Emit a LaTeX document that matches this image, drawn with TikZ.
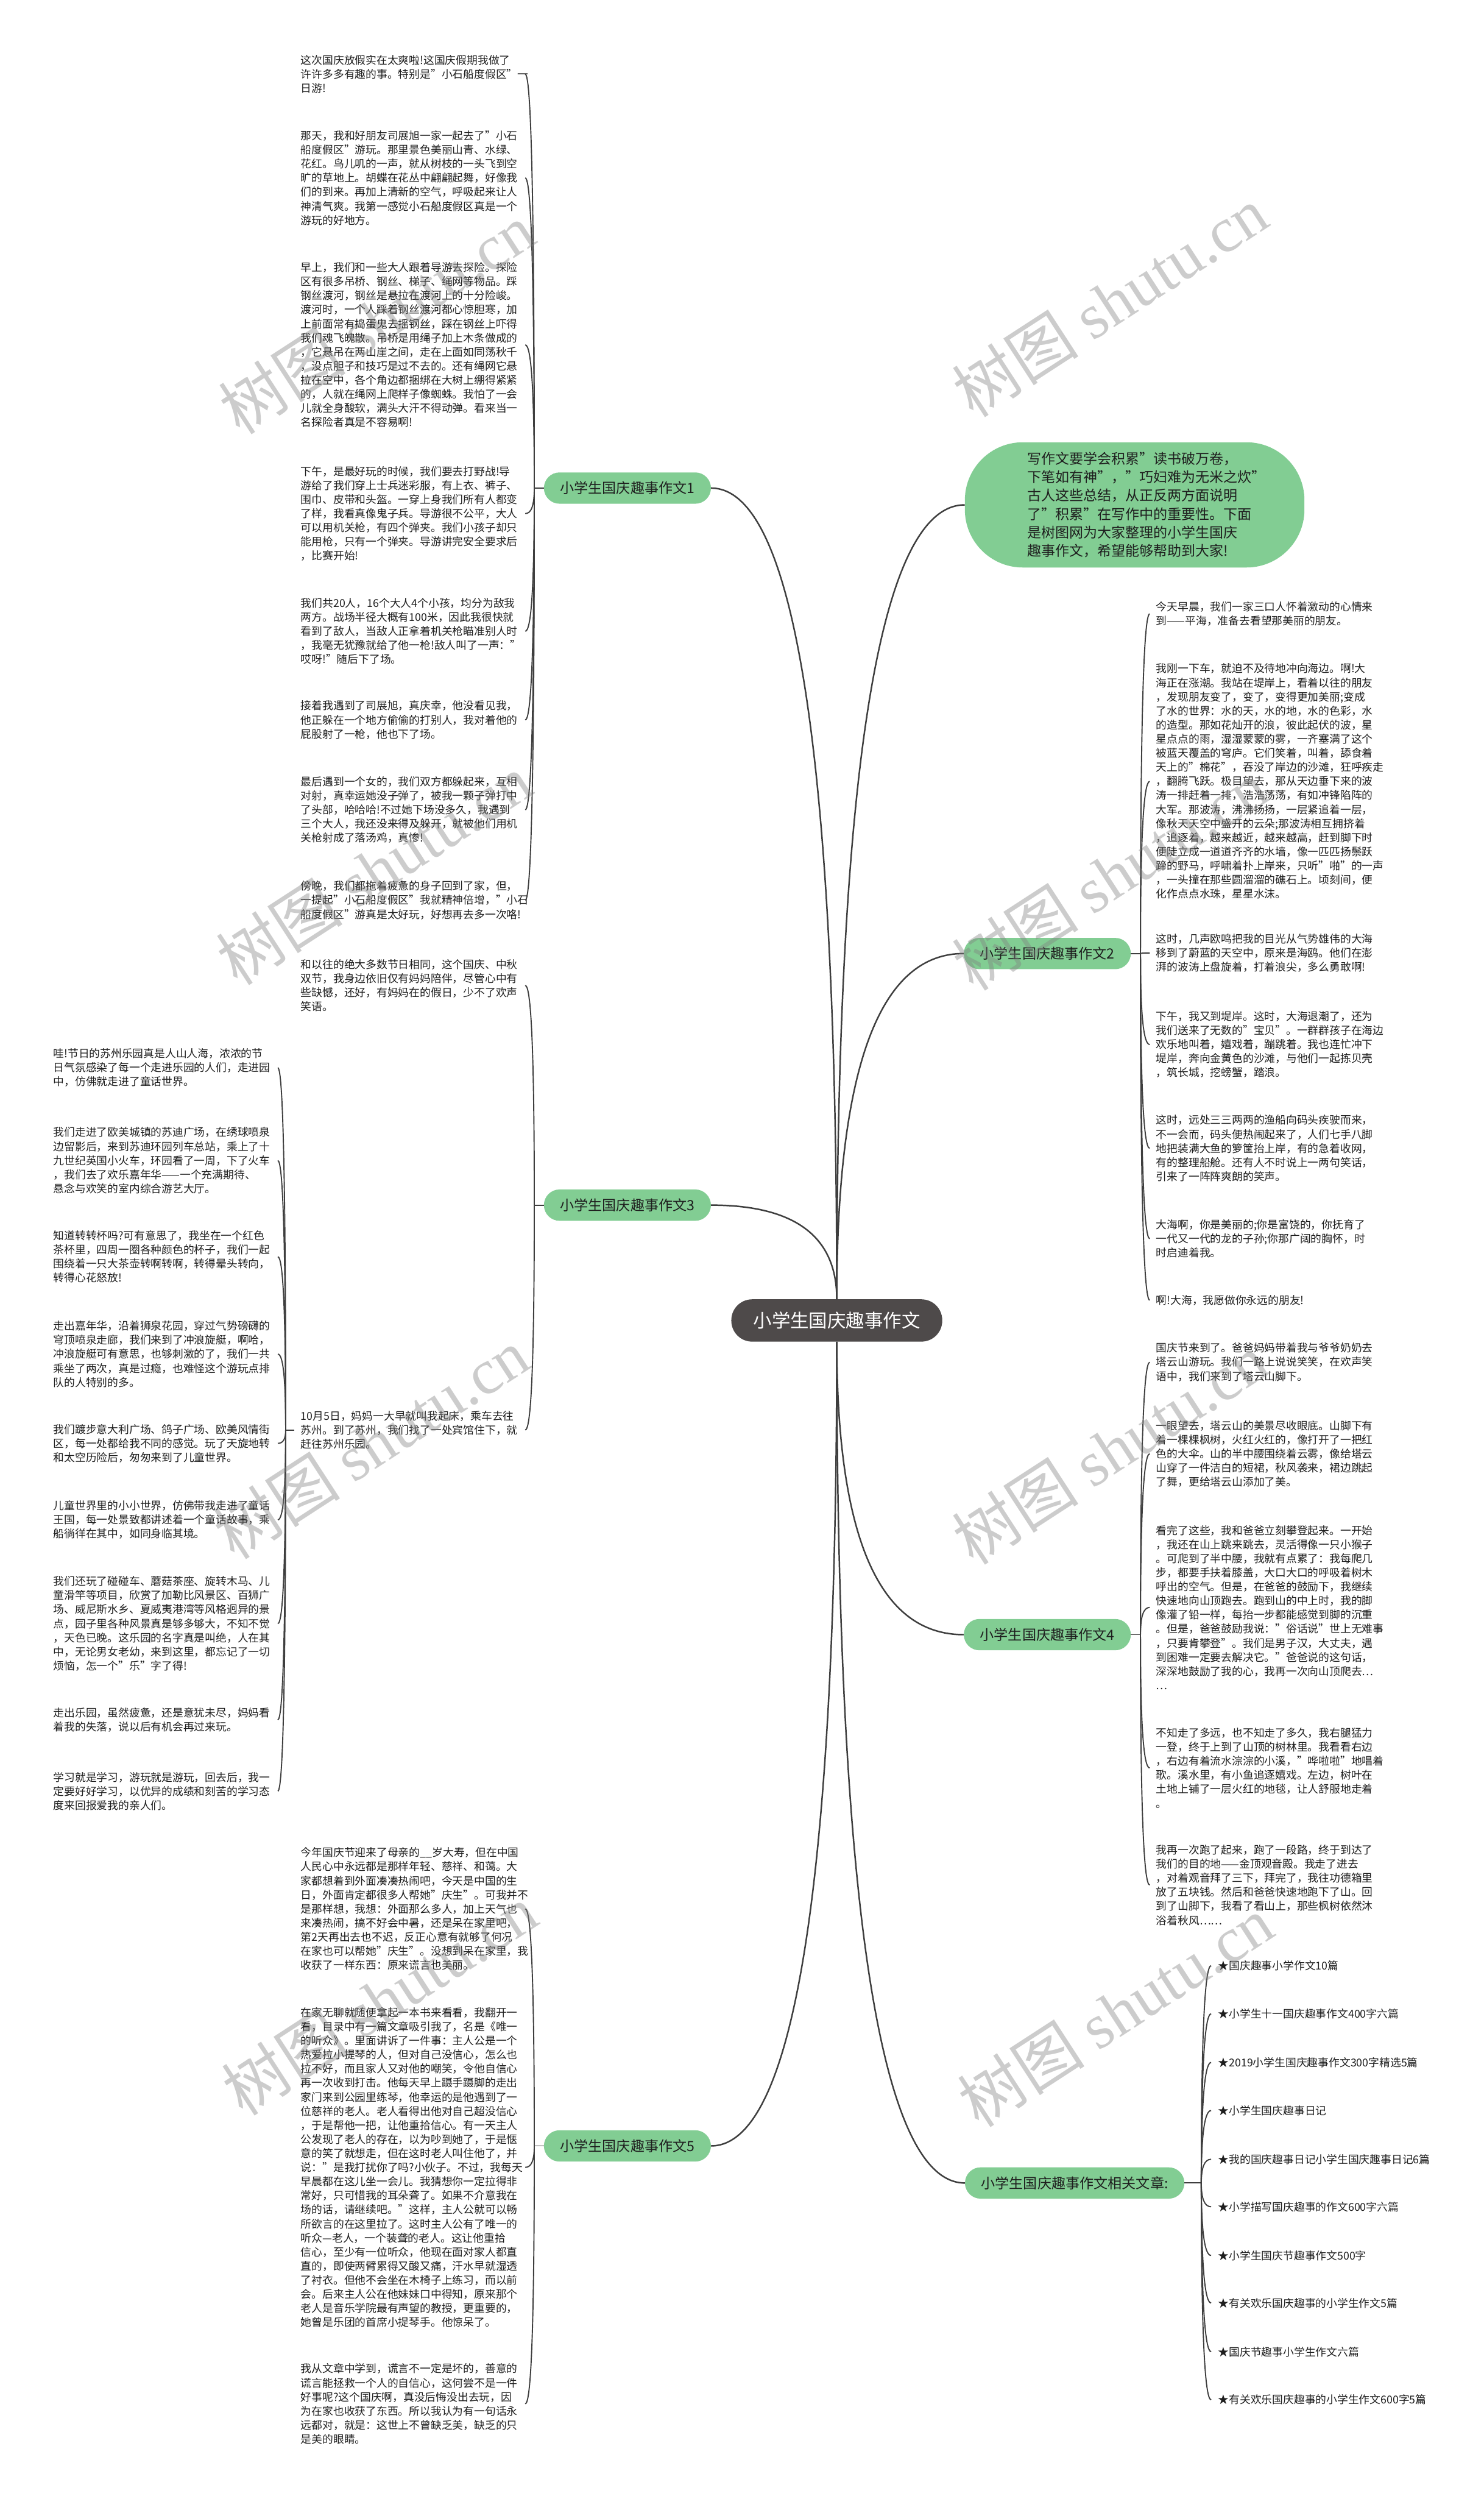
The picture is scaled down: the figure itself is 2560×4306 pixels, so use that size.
\documentclass[tikz,border=0pt]{standalone}
\usepackage{fontspec}
\setmainfont{Noto Sans CJK SC}
\newfontfamily\wmcjk{Noto Sans CJK SC}
\newfontfamily\wmlat{Liberation Serif}
\definecolor{grn}{RGB}{130,205,147}
\definecolor{cen}{RGB}{78,74,74}
\definecolor{lnc}{RGB}{62,62,62}
\definecolor{txtc}{RGB}{30,30,30}
\tikzset{
 base/.style={font=\fontsize{18.7pt}{24.3pt}\selectfont, text=txtc, align=left, inner ysep=0pt},
 lt/.style={base, anchor=west, inner xsep=11pt, text width=376pt},
 rt/.style={base, anchor=west, inner xsep=11pt},
 lbl/.style={fill=grn, rounded corners=27pt, minimum height=54pt, inner xsep=28pt, inner ysep=0pt, font=\fontsize{24.3pt}{30pt}\selectfont, text=txtc},
 cconn/.style={draw=lnc, line width=2.6pt},
 hk/.style={draw=lnc, line width=2pt},
 wm/.style={rotate=33, text=gray, text opacity=0.4, font=\fontsize{110pt}{110pt}\selectfont, inner sep=0pt}
}
\begin{document}
\begin{tikzpicture}[x=1pt,y=-1pt]
\fill[white] (0,0) rectangle (2560,4306);
\useasboundingbox (0,0) rectangle (2560,4306);

% central node
\node[fill=cen, text=white, rounded corners=36pt, minimum width=364pt, minimum height=73pt, inner sep=0pt, font=\fontsize{32pt}{36pt}\selectfont] (c) at (1444,2278) {小学生国庆趣事作文};

% labels
\node[lbl, anchor=east] (lb1) at (1227,842) {小学生国庆趣事作文1};
\node[lbl, anchor=east] (lb3) at (1227,2079) {小学生国庆趣事作文3};
\node[lbl, anchor=east] (lb5) at (1227,3702) {小学生国庆趣事作文5};
\node[lbl, anchor=west] (lb2) at (1663,1645) {小学生国庆趣事作文2};
\node[lbl, anchor=west] (lb4) at (1663,2820) {小学生国庆趣事作文4};
\node[lbl, anchor=west] (lrel) at (1665,3766) {小学生国庆趣事作文相关文章:};

% intro box
\node[fill=grn, rounded corners=100pt, minimum height=216pt, text width=370pt, inner xsep=108pt, inner ysep=0pt, align=left, font=\fontsize{24.2pt}{31.7pt}\selectfont, text=txtc] (intro) at (1958,871) {写作文要学会积累"读书破万卷，\\下笔如有神"，"巧妇难为无米之炊"\\古人这些总结，从正反两方面说明\\了"积累"在写作中的重要性。下面\\是树图网为大家整理的小学生国庆\\趣事作文，希望能够帮助到大家!};

% branch 1 texts
\node[lt] (b1a) at (508,128) {这次国庆放假实在太爽啦!这国庆假期我做了\\许许多多有趣的事。特别是"小石船度假区"一\\日游!};
\node[lt] (b1b) at (508,307) {那天，我和好朋友司展旭一家一起去了"小石\\船度假区"游玩。那里景色美丽山青、水绿、\\花红。鸟儿叽的一声，就从树枝的一头飞到空\\旷的草地上。胡蝶在花丛中翩翩起舞，好像我\\们的到来。再加上清新的空气，呼吸起来让人\\神清气爽。我第一感觉小石船度假区真是一个\\游玩的好地方。};
\node[lt] (b1c) at (508,595) {早上，我们和一些大人跟着导游去探险。探险\\区有很多吊桥、钢丝、梯子、绳网等物品。踩\\钢丝渡河，钢丝是悬拉在渡河上的十分险峻。\\渡河时，一个人踩着钢丝渡河都心惊胆寒，加\\上前面常有捣蛋鬼去摇钢丝，踩在钢丝上吓得\\我们魂飞魄散。吊桥是用绳子加上木条做成的\\，它悬吊在两山崖之间，走在上面如同荡秋千\\，没点胆子和技巧是过不去的。还有绳网它悬\\拉在空中，各个角边都捆绑在大树上绷得紧紧\\的，人就在绳网上爬样子像蜘蛛。我怕了一会\\儿就全身酸软，满头大汗不得动弹。看来当一\\名探险者真是不容易啊!};
\node[lt] (b1d) at (508,886) {下午，是最好玩的时候，我们要去打野战!导\\游给了我们穿上士兵迷彩服，有上衣、裤子、\\围巾、皮带和头盔。一穿上身我们所有人都变\\了样，我看真像鬼子兵。导游很不公平，大人\\可以用机关枪，有四个弹夹。我们小孩子却只\\能用枪，只有一个弹夹。导游讲完安全要求后\\，比赛开始!};
\node[lt] (b1e) at (508,1089) {我们共20人，16个大人4个小孩，均分为敌我\\两方。战场半径大概有100米，因此我很快就\\看到了敌人，当敌人正拿着机关枪瞄准别人时\\，我毫无犹豫就给了他一枪!敌人叫了一声："\\哎呀!"随后下了场。};
\node[lt] (b1f) at (508,1242) {接着我遇到了司展旭，真庆幸，他没看见我，\\他正躲在一个地方偷偷的打别人，我对着他的\\屁股射了一枪，他也下了场。};
\node[lt] (b1g) at (508,1397) {最后遇到一个女的，我们双方都躲起来，互相\\对射，真幸运她没子弹了，被我一颗子弹打中\\了头部，哈哈哈!不过她下场没多久，我遇到\\三个大人，我还没来得及躲开，就被他们用机\\关枪射成了落汤鸡，真惨!};
\node[lt] (b1h) at (508,1553) {傍晚，我们都拖着疲惫的身子回到了家，但，\\一提起"小石船度假区"我就精神倍增，"小石\\船度假区"游真是太好玩，好想再去多一次咯!};

% branch 3 texts
\node[lt] (b3a) at (508,1700) {和以往的绝大多数节日相同，这个国庆、中秋\\双节，我身边依旧仅有妈妈陪伴，尽管心中有\\些缺憾，还好，有妈妈在的假日，少不了欢声\\笑语。};
\node[lt] (b3b) at (508,2467) {10月5日，妈妈一大早就叫我起床，乘车去往\\苏州。到了苏州，我们找了一处宾馆住下，就\\赶往苏州乐园。};
\node[lt] (l1) at (81,1842) {哇!节日的苏州乐园真是人山人海，浓浓的节\\日气氛感染了每一个走进乐园的人们，走进园\\中，仿佛就走进了童话世界。};
\node[lt] (l2) at (81,2002) {我们走进了欧美城镇的苏迪广场，在绣球喷泉\\边留影后，来到苏迪环园列车总站，乘上了十\\九世纪英国小火车，环园看了一周，下了火车\\，我们去了欢乐嘉年华——一个充满期待、\\悬念与欢笑的室内综合游艺大厅。};
\node[lt] (l3) at (81,2168) {知道转转杯吗?可有意思了，我坐在一个红色\\茶杯里，四周一圈各种颜色的杯子，我们一起\\围绕着一只大茶壶转啊转啊，转得晕头转向，\\转得心花怒放!};
\node[lt] (l4) at (81,2336) {走出嘉年华，沿着狮泉花园，穿过气势磅礴的\\穹顶喷泉走廊，我们来到了冲浪旋艇，啊哈，\\冲浪旋艇可有意思，也够刺激的了，我们一共\\乘坐了两次，真是过瘾，也难怪这个游玩点排\\队的人特别的多。};
\node[lt] (l5) at (81,2490) {我们踱步意大利广场、鸽子广场、欧美风情街\\区，每一处都给我不同的感觉。玩了天旋地转\\和太空历险后，匆匆来到了儿童世界。};
\node[lt] (l6) at (81,2622) {儿童世界里的小小世界，仿佛带我走进了童话\\王国，每一处景致都讲述着一个童话故事，乘\\船徜徉在其中，如同身临其境。};
\node[lt] (l7) at (81,2801) {我们还玩了碰碰车、蘑菇茶座、旋转木马、儿\\童滑竿等项目，欣赏了加勒比风景区、百狮广\\场、威尼斯水乡、夏威夷港湾等风格迥异的景\\点，园子里各种风景真是够多够大，不知不觉\\，天色已晚。这乐园的名字真是叫绝，人在其\\中，无论男女老幼，来到这里，都忘记了一切\\烦恼，怎一个"乐"字了得!};
\node[lt] (l8) at (81,2967) {走出乐园，虽然疲惫，还是意犹未尽，妈妈看\\着我的失落，说以后有机会再过来玩。};
\node[lt] (l9) at (81,3090) {学习就是学习，游玩就是游玩，回去后，我一\\定要好好学习，以优异的成绩和刻苦的学习态\\度来回报爱我的亲人们。};

% branch 5 texts
\node[lt] (b5a) at (508,3293) {今年国庆节迎来了母亲的\_\_岁大寿，但在中国\\人民心中永远都是那样年轻、慈祥、和蔼。大\\家都想着到外面凑凑热闹吧，今天是中国的生\\日，外面肯定都很多人帮她"庆生"。可我并不\\是那样想，我想：外面那么多人，加上天气也\\来凑热闹，搞不好会中暑，还是呆在家里吧，\\第2天再出去也不迟，反正心意有就够了何况\\在家也可以帮她"庆生"。没想到呆在家里，我\\收获了一样东西：原来谎言也美丽。};
\node[lt] (b5b) at (508,3739) {在家无聊就随便拿起一本书来看看，我翻开一\\看，目录中有一篇文章吸引我了，名是《唯一\\的听众》。里面讲诉了一件事：主人公是一个\\热爱拉小提琴的人，但对自己没信心，怎么也\\拉不好，而且家人又对他的嘲笑，令他自信心\\再一次收到打击。他每天早上蹑手蹑脚的走出\\家门来到公园里练琴，他幸运的是他遇到了一\\位慈祥的老人。老人看得出他对自己超没信心\\，于是帮他一把，让他重拾信心。有一天主人\\公发现了老人的存在，以为吵到她了，于是惬\\意的笑了就想走，但在这时老人叫住他了，并\\说："是我打扰你了吗?小伙子。不过，我每天\\早晨都在这儿坐一会儿。我猜想你一定拉得非\\常好，只可惜我的耳朵聋了。如果不介意我在\\场的话，请继续吧。"这样，主人公就可以畅\\所欲言的在这里拉了。这时主人公有了唯一的\\听众—老人，一个装聋的老人。这让他重拾\\信心，至少有一位听众，他现在面对家人都直\\直的，即使两臂累得又酸又痛，汗水早就湿透\\了衬衣。但他不会坐在木椅子上练习，而以前\\会。后来主人公在他妹妹口中得知，原来那个\\老人是音乐学院最有声望的教授，更重要的，\\她曾是乐团的首席小提琴手。他惊呆了。};
\node[lt] (b5c) at (508,4147) {我从文章中学到，谎言不一定是坏的，善意的\\谎言能拯救一个人的自信心，这何尝不是一件\\好事呢?这个国庆啊，真没后悔没出去玩，因\\为在家也收获了东西。所以我认为有一句话永\\远都对，就是：这世上不曾缺乏美，缺乏的只\\是美的眼睛。};

% branch 2 texts
\node[rt] (r2a) at (1984,1059) {今天早晨，我们一家三口人怀着激动的心情来\\到——平海，准备去看望那美丽的朋友。};
\node[rt] (r2b) at (1984,1348) {我刚一下车，就迫不及待地冲向海边。啊!大\\海正在涨潮。我站在堤岸上，看着以往的朋友\\，发现朋友变了，变了，变得更加美丽;变成\\了水的世界：水的天，水的地，水的色彩，水\\的造型。那如花灿开的浪，彼此起伏的波，星\\星点点的雨，湿湿蒙蒙的雾，一齐塞满了这个\\被蓝天覆盖的穹庐。它们笑着，叫着，舔食着\\天上的"棉花"，吞没了岸边的沙滩，狂呼疾走\\，翻腾飞跃。极目望去，那从天边垂下来的波\\涛一排赶着一排，浩浩荡荡，有如冲锋陷阵的\\大军。那波涛，沸沸扬扬，一层紧追着一层，\\像秋天天空中盛开的云朵;那波涛相互拥挤着\\，追逐着，越来越近，越来越高，赶到脚下时\\便陡立成一道道齐齐的水墙，像一匹匹扬鬃跃\\蹄的野马，呼啸着扑上岸来，只听"啪"的一声\\，一头撞在那些圆溜溜的礁石上。顷刻间，便\\化作点点水珠，星星水沫。};
\node[rt] (r2c) at (1984,1644) {这时，几声欧鸣把我的目光从气势雄伟的大海\\移到了蔚蓝的天空中，原来是海鸥。他们在澎\\湃的波涛上盘旋着，打着浪尖，多么勇敢啊!};
\node[rt] (r2d) at (1984,1802) {下午，我又到堤岸。这时，大海退潮了，还为\\我们送来了无数的"宝贝"。一群群孩子在海边\\欢乐地叫着，嬉戏着，蹦跳着。我也连忙冲下\\堤岸，奔向金黄色的沙滩，与他们一起拣贝壳\\，筑长城，挖螃蟹，踏浪。};
\node[rt] (r2e) at (1984,1981) {这时，远处三三两两的渔船向码头疾驶而来，\\不一会而，码头便热闹起来了，人们七手八脚\\地把装满大鱼的箩筐抬上岸，有的急着收网，\\有的整理船舱。还有人不时说上一两句笑话，\\引来了一阵阵爽朗的笑声。};
\node[rt] (r2f) at (1984,2137) {大海啊，你是美丽的;你是富饶的，你抚育了\\一代又一代的龙的子孙;你那广阔的胸怀，时\\时启迪着我。};
\node[rt] (r2g) at (1984,2243) {啊!大海，我愿做你永远的朋友!};

% branch 4 texts
\node[rt] (r4a) at (1984,2350) {国庆节来到了。爸爸妈妈带着我与爷爷奶奶去\\塔云山游玩。我们一路上说说笑笑，在欢声笑\\语中，我们来到了塔云山脚下。};
\node[rt] (r4b) at (1984,2508) {一眼望去，塔云山的美景尽收眼底。山脚下有\\着一棵棵枫树，火红火红的，像打开了一把红\\色的大伞。山的半中腰围绕着云雾，像给塔云\\山穿了一件洁白的短裙，秋风袭来，裙边跳起\\了舞，更给塔云山添加了美。};
\node[rt] (r4c) at (1984,2773) {看完了这些，我和爸爸立刻攀登起来。一开始\\，我还在山上跳来跳去，灵活得像一只小猴子\\。可爬到了半中腰，我就有点累了：我每爬几\\步，都要手扶着膝盖，大口大口的呼吸着树木\\呼出的空气。但是，在爸爸的鼓励下，我继续\\快速地向山顶跑去。跑到山的中上时，我的脚\\像灌了铅一样，每抬一步都能感觉到脚的沉重\\。但是，爸爸鼓励我说："俗话说"世上无难事\\，只要肯攀登"。我们是男子汉，大丈夫，遇\\到困难一定要去解决它。"爸爸说的这句话，\\深深地鼓励了我的心，我再一次向山顶爬去…\\…};
\node[rt] (r4d) at (1984,3050) {不知走了多远，也不知走了多久，我右腿猛力\\一登，终于上到了山顶的树林里。我看看右边\\，右边有着流水淙淙的小溪，"哗啦啦"地唱着\\歌。溪水里，有小鱼追逐嬉戏。左边，树叶在\\土地上铺了一层火红的地毯，让人舒服地走着\\。};
\node[rt] (r4e) at (1984,3252) {我再一次跑了起来，跑了一段路，终于到达了\\我们的目的地——金顶观音殿。我走了进去\\，对着观音拜了三下，拜完了，我往功德箱里\\放了五块钱。然后和爸爸快速地跑下了山。回\\到了山脚下，我看了看山上，那些枫树依然沐\\浴着秋风……};

% related items
\node[rt, inner xsep=12pt] (rel1) at (2090,3391) {★国庆趣事小学作文10篇};
\node[rt, inner xsep=12pt] (rel2) at (2090,3474) {★小学生十一国庆趣事作文400字六篇};
\node[rt, inner xsep=12pt] (rel3) at (2090,3558) {★2019小学生国庆趣事作文300字精选5篇};
\node[rt, inner xsep=12pt] (rel4) at (2090,3641) {★小学生国庆趣事日记};
\node[rt, inner xsep=12pt] (rel5) at (2090,3725) {★我的国庆趣事日记小学生国庆趣事日记6篇};
\node[rt, inner xsep=12pt] (rel6) at (2090,3807) {★小学描写国庆趣事的作文600字六篇};
\node[rt, inner xsep=12pt] (rel7) at (2090,3891) {★小学生国庆节趣事作文500字};
\node[rt, inner xsep=12pt] (rel8) at (2090,3973) {★有关欢乐国庆趣事的小学生作文5篇};
\node[rt, inner xsep=12pt] (rel9) at (2090,4057) {★国庆节趣事小学生作文六篇};
\node[rt, inner xsep=12pt] (rel10) at (2090,4140) {★有关欢乐国庆趣事的小学生作文600字5篇};

% trunk points
\coordinate (t1) at (922,842);
\coordinate (t3) at (922,2079);
\coordinate (t3b) at (493,2467);
\coordinate (t5) at (922,3702);
\coordinate (t2) at (1968,1645);
\coordinate (t4) at (1968,2820);
\coordinate (t7) at (2073,3766);

% central connectors
\draw[cconn] (c.north) .. controls +(0,-933) and +(145,0) .. (lb1.east);
\draw[cconn] (c.north) .. controls +(0,-914) and +(-147,0) .. (intro.west);
\draw[cconn] (c.north) .. controls +(0,-398) and +(-146,0) .. (lb2.west);
\draw[cconn] (c.north) .. controls +(0,-108) and +(145,0) .. (lb3.east);
\draw[cconn] (c.south) .. controls +(0,337) and +(-146,0) .. (lb4.west);
\draw[cconn] (c.south) .. controls +(0,925) and +(145,0) .. (lb5.east);
\draw[cconn] (c.south) .. controls +(0,968) and +(-147,0) .. (lrel.west);

% branch connectors
\draw[hk] (lb1.west) -- (t1);
\foreach \n/\yy in {b1a/128,b1b/307,b1c/595,b1d/886,b1e/1089,b1f/1242,b1g/1397,b1h/1553}
  \draw[hk] (t1) .. controls +(0,{(\yy-842)*0.6667}) and +(10.7,0) .. (\n.east);
\draw[hk] (lb3.west) -- (t3);
\foreach \n/\yy in {b3a/1700,b3b/2467}
  \draw[hk] (t3) .. controls +(0,{(\yy-2079)*0.6667}) and +(10.7,0) .. (\n.east);
\draw[hk] (b3b.west) -- (t3b);
\foreach \n/\yy in {l1/1842,l2/2002,l3/2168,l4/2336,l5/2490,l6/2622,l7/2801,l8/2967,l9/3090}
  \draw[hk] (t3b) .. controls +(0,{(\yy-2467)*0.6667}) and +(9.3,0) .. (\n.east);
\draw[hk] (lb5.west) -- (t5);
\foreach \n/\yy in {b5a/3293,b5b/3739,b5c/4147}
  \draw[hk] (t5) .. controls +(0,{(\yy-3702)*0.6667}) and +(10.7,0) .. (\n.east);
\draw[hk] (lb2.east) -- (t2);
\foreach \n/\yy in {r2a/1059,r2b/1348,r2c/1644,r2d/1802,r2e/1981,r2f/2137,r2g/2243}
  \draw[hk] (t2) .. controls +(0,{(\yy-1645)*0.6667}) and +(-10.7,0) .. (\n.west);
\draw[hk] (lb4.east) -- (t4);
\foreach \n/\yy in {r4a/2350,r4b/2508,r4c/2773,r4d/3050,r4e/3252}
  \draw[hk] (t4) .. controls +(0,{(\yy-2820)*0.6667}) and +(-10.7,0) .. (\n.west);
\draw[hk] (lrel.east) -- (t7);
\foreach \n/\yy in {rel1/3391,rel2/3474,rel3/3558,rel4/3641,rel5/3725,rel6/3807,rel7/3891,rel8/3973,rel9/4057,rel10/4140}
  \draw[hk] (t7) .. controls +(0,{(\yy-3766)*0.6667}) and +(-11.3,0) .. (\n.west);

% watermarks
\foreach \wx/\wy [count=\i] in {650/550,1915/520,645/1500,1915/1510,640/2490,1915/2500,655/3450,1925/3470}
  \node[wm, name=wm\i] at (\wx,\wy) {{\wmcjk 树图} {\wmlat shutu.cn}};
\end{tikzpicture}
\end{document}
